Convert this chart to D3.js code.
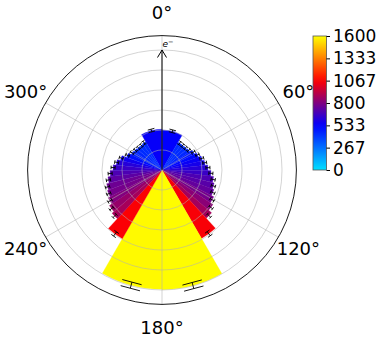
<!DOCTYPE html>
<html>
<head>
<meta charset="utf-8">
<script src="https://cdn.jsdelivr.net/npm/d3@7"></script>
<style>
  html, body { margin: 0; padding: 0; background: #fff; }
  svg { display: block; font-family: "DejaVu Sans", sans-serif; }
</style>
</head>
<body>
<svg id="chart" width="382" height="340"></svg>
<script>
// ---- data ----
// angular bin edges in degrees (0 = up, clockwise)
const binEdges = [-30, 0, 30,
  36.7, 43.4, 50.2, 56.9, 63.6, 70.3, 77.0, 83.8, 90.5, 97.2, 103.9, 110.6, 117.3, 124.1, 130.8, 137.5,
  150, 180, 210, 222.5,
  229.2, 235.9, 242.7, 249.4, 256.1, 262.8, 269.5, 276.2, 283.0, 289.7, 296.4, 303.1, 309.8, 316.6, 323.3, 330];
// counts per bin
const counts = [545, 535,
  429, 427, 431, 443, 480, 513, 552, 577, 613, 653, 693, 716, 740, 777, 820, 873,
  1053, 1595, 1590, 1058,
  880, 847, 807, 777, 760, 727, 693, 653, 613, 567, 500, 460, 443, 431, 427, 436];
// uncertainties per bin
const errors = [18, 18,
  24, 24, 24, 24, 25, 25, 26, 26, 27, 27, 28, 28, 28, 29, 29, 30,
  34, 42, 42, 34,
  30, 29, 29, 28, 28, 28, 27, 27, 26, 26, 25, 25, 24, 24, 24, 24];
const angleTicks = [0, 60, 120, 180, 240, 300];
const colorTicks = [0, 267, 533, 800, 1067, 1333, 1600];
const colorDomain = [0, 533.3, 800, 1066.7, 1333.3, 1600];
const colorRange = ["#00e0ff", "#0000ff", "#800080", "#ff0000", "#ff8000", "#ffff00"];
const radialMax = 1792;
const particleLabel = "e";

// ---- layout ----
const cx = 162, cy = 170;
const outerR = 134.4;
const svg = d3.select("#chart");
const rad = d => d * Math.PI / 180;

const r = d3.scaleLinear().domain([0, radialMax]).range([0, outerR]);
const color = d3.scaleLinear().domain(colorDomain).range(colorRange).clamp(true);

const bins = counts.map((v, i) => ({
  a0: binEdges[i], a1: binEdges[i + 1], v: v, e: errors[i]
}));

const g = svg.append("g").attr("transform", `translate(${cx},${cy})`);

// bars
const arc = d3.arc()
  .innerRadius(0)
  .outerRadius(d => r(d.v))
  .startAngle(d => rad(d.a0))
  .endAngle(d => rad(d.a1));

g.selectAll("path.bar").data(bins).join("path")
  .attr("class", "bar")
  .attr("d", arc)
  .attr("fill", d => color(d.v))
  .attr("stroke", d => color(d.v))
  .attr("stroke-width", 0.3);

// grid circles
g.selectAll("circle.grid").data(colorTicks.slice(1)).join("circle")
  .attr("class", "grid")
  .attr("r", d => r(d))
  .attr("fill", "none")
  .attr("stroke", "#b0b0b0")
  .attr("stroke-opacity", 0.55)
  .attr("stroke-width", 1);

// radial grid lines
g.selectAll("line.spoke").data(angleTicks).join("line")
  .attr("class", "spoke")
  .attr("x1", 0).attr("y1", 0)
  .attr("x2", d => outerR * Math.sin(rad(d)))
  .attr("y2", d => -outerR * Math.cos(rad(d)))
  .attr("stroke", "#b0b0b0")
  .attr("stroke-opacity", 0.55)
  .attr("stroke-width", 1);

// outer circle
g.append("circle").attr("r", outerR).attr("fill", "none")
  .attr("stroke", "#000").attr("stroke-width", 0.9);

// error bars
const eb = g.append("g").attr("stroke", "#000").attr("stroke-width", 0.9).attr("fill", "none");
bins.forEach(d => {
  const th = rad((d.a0 + d.a1) / 2);
  const s = Math.sin(th), c = Math.cos(th);
  const rl = r(d.v - d.e), rh = r(d.v + d.e);
  const width = rad(d.a1 - d.a0) * r(d.v);
  const half = Math.max(1.8, width * 0.16);
  eb.append("line")
    .attr("x1", rl * s).attr("y1", -rl * c)
    .attr("x2", rh * s).attr("y2", -rh * c);
  [rl, rh].forEach(rr => {
    eb.append("line")
      .attr("x1", rr * s - half * c).attr("y1", -rr * c - half * s)
      .attr("x2", rr * s + half * c).attr("y2", -rr * c + half * s);
  });
});

// arrow
const tipR = r(1600);
g.append("line").attr("x1", 0).attr("y1", 0).attr("x2", 0).attr("y2", -tipR)
  .attr("stroke", "#000").attr("stroke-width", 1);
g.append("path")
  .attr("d", `M${-4.5},${-tipR + 7.5} L0,${-tipR} L${4.5},${-tipR + 7.5}`)
  .attr("fill", "none").attr("stroke", "#000").attr("stroke-width", 1);
const et = g.append("text").attr("x", 0.5).attr("y", -tipR - 3)
  .attr("font-size", 9).attr("fill", "#000");
et.append("tspan").attr("font-style", "italic").text(particleLabel);
et.append("tspan").attr("dy", -3.5).attr("font-size", 6.5).text("\u2212");

// angle labels
const labR = 157.5;
g.selectAll("text.ang").data(angleTicks).join("text")
  .attr("class", "ang")
  .attr("x", d => labR * Math.sin(rad(d)))
  .attr("y", d => -labR * Math.cos(rad(d)))
  .attr("text-anchor", "middle")
  .attr("dominant-baseline", "central")
  .attr("font-size", 18)
  .attr("fill", "#000")
  .text(d => d + "\u00b0");

// colorbar
const cbX = 313, cbW = 13.5, cbTop = 36, cbBot = 170;
const defs = svg.append("defs");
const grad = defs.append("linearGradient").attr("id", "cbgrad")
  .attr("x1", 0).attr("y1", 1).attr("x2", 0).attr("y2", 0);
d3.range(0, 1.0001, 0.05).forEach(t => {
  grad.append("stop").attr("offset", t).attr("stop-color", color(t * 1600));
});
svg.append("rect").attr("x", cbX).attr("y", cbTop).attr("width", cbW).attr("height", cbBot - cbTop)
  .attr("fill", "url(#cbgrad)").attr("stroke", "#555").attr("stroke-width", 0.8);
const cs = d3.scaleLinear().domain([0, 1600]).range([cbBot, cbTop]);
const cax = d3.axisRight(cs).tickValues(colorTicks).tickSize(3.5).tickPadding(3).tickFormat(d => d);
const ca = svg.append("g").attr("transform", `translate(${cbX + cbW},0)`).call(cax);
ca.select(".domain").remove();
ca.selectAll("text").attr("font-size", 17).attr("font-family", "DejaVu Sans").attr("fill", "#000");
ca.selectAll("line").attr("stroke", "#000");
</script>
</body>
</html>
